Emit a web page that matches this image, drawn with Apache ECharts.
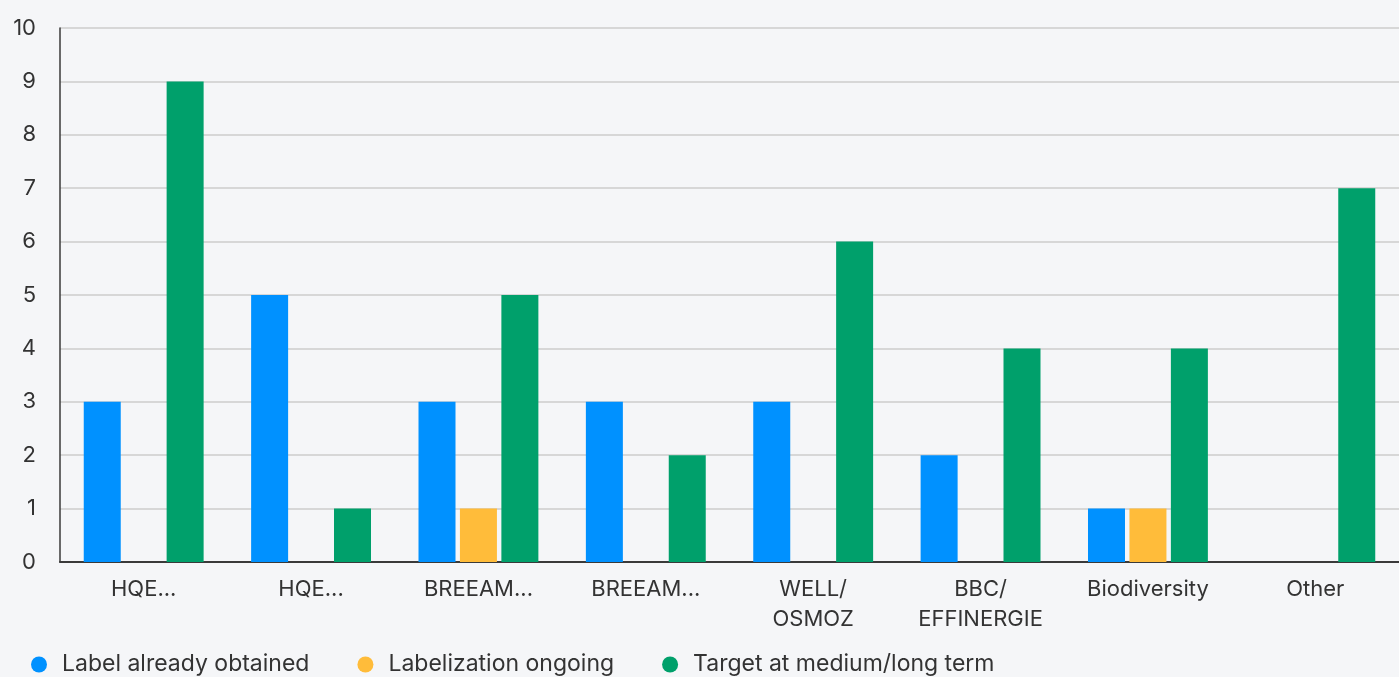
<!DOCTYPE html>
<html>
<head>
<meta charset="utf-8">
<script src="https://cdn.jsdelivr.net/npm/echarts@6/dist/echarts.min.js"></script>
<style>
html, body { margin: 0; padding: 0; background: #f5f6f8; }
#chart { width: 1399px; height: 677px; }
</style>
</head>
<body>
<div id="chart"></div>
<script>
const categories = ['HQE...', 'HQE...', 'BREEAM...', 'BREEAM...', 'WELL/\nOSMOZ', 'BBC/\nEFFINERGIE', 'Biodiversity', 'Other']
const obtained = [3, 5, 3, 3, 3, 2, 1, 0]
const ongoing = [0, 0, 1, 0, 0, 0, 1, 0]
const target = [9, 1, 5, 2, 6, 4, 4, 7]
const seriesNames = ['Label already obtained', 'Labelization ongoing', 'Target at medium/long term']
const colors = ['#0091ff', '#ffbc3a', '#00a06b']

const font = 'Inter, "Noto Sans", sans-serif'
const chart = echarts.init(document.getElementById('chart'))

// zero values are not drawn
const toData = arr => arr.map(v => v === 0 ? null : v)

chart.setOption({
    backgroundColor: '#f5f6f8',
    animation: false,
    grid: { left: 60, right: 0, top: 28, bottom: 115 },
    legend: {
        left: 31,
        top: 653,
        padding: 0,
        icon: 'circle',
        itemWidth: 36,
        itemHeight: 16,
        itemGap: 48,
        textStyle: { fontFamily: font, fontSize: 23, color: '#333' },
        data: seriesNames
    },
    xAxis: {
        type: 'category',
        data: categories,
        axisTick: { show: false },
        axisLine: { lineStyle: { color: '#3a3a3a', width: 2 } },
        axisLabel: { fontFamily: font, fontSize: 22, color: '#333', lineHeight: 30, margin: 12, interval: 0 }
    },
    yAxis: {
        type: 'value',
        min: 0,
        max: 10,
        interval: 1,
        axisLine: { show: true, lineStyle: { color: '#3a3a3a', width: 1.5 } },
        axisLabel: { fontFamily: font, fontSize: 22, color: '#333', margin: 24 },
        splitLine: { lineStyle: { color: '#cccccc', width: 1.5 } }
    },
    series: [
        { name: seriesNames[0], type: 'bar', data: toData(obtained), barWidth: 37, barGap: '12%', itemStyle: { color: colors[0] } },
        { name: seriesNames[1], type: 'bar', data: toData(ongoing), barWidth: 37, barGap: '12%', itemStyle: { color: colors[1] } },
        { name: seriesNames[2], type: 'bar', data: toData(target), barWidth: 37, barGap: '12%', itemStyle: { color: colors[2] } }
    ]
})
</script>
</body>
</html>
